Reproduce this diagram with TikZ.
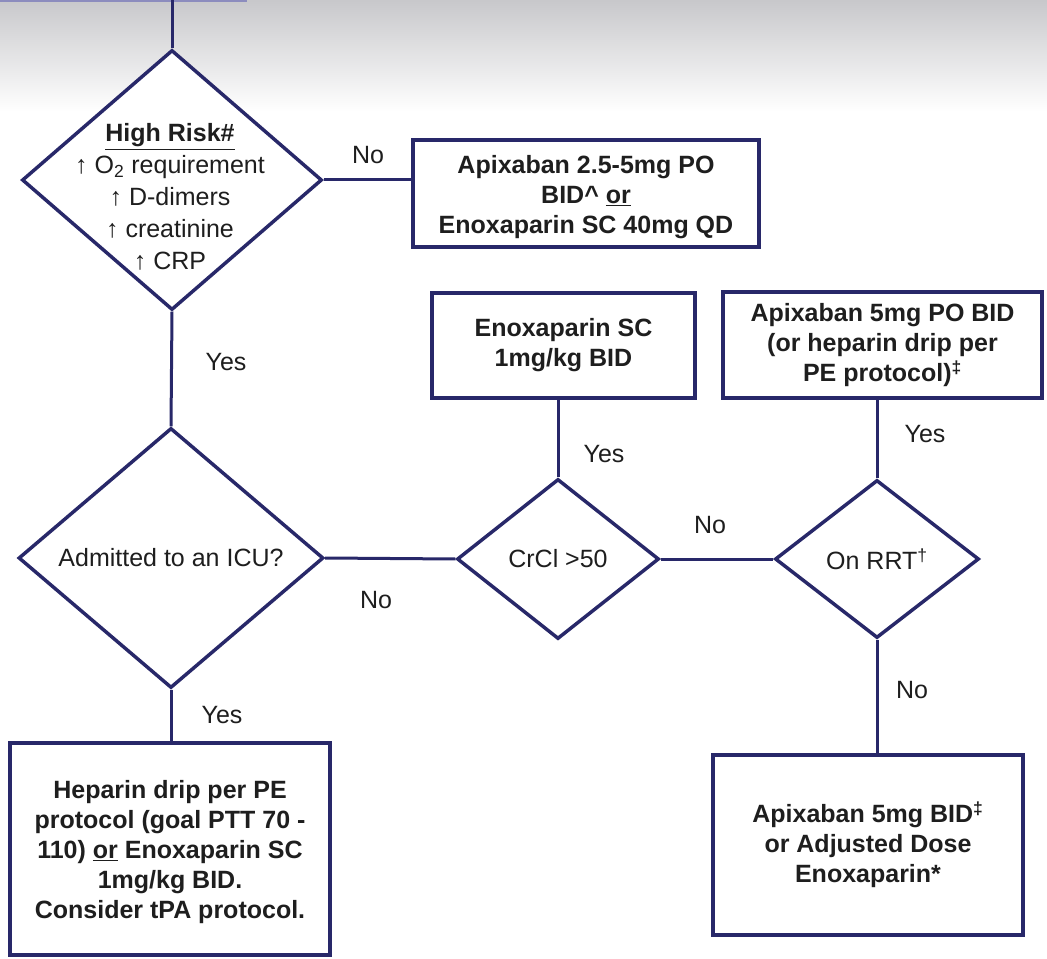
\documentclass[tikz,border=0pt]{standalone}
\usepackage{fontspec}
\setmainfont{Liberation Sans}
\usetikzlibrary{shapes.geometric}
\definecolor{navy}{RGB}{40,40,105}
\definecolor{ink}{RGB}{30,30,30}
\definecolor{topgray}{RGB}{200,200,203}
\definecolor{topline}{RGB}{140,140,190}
\newcommand\boxfnt{\fontsize{18.75}{22.5}\selectfont\bfseries}
\newcommand\txtfnt{\fontsize{18.75}{22.5}\selectfont}
\newcommand\riskfnt{\fontsize{18.75}{24}\selectfont}
\begin{document}
\begin{tikzpicture}[x=0.75pt,y=-0.75pt,
  sz/.style n args={2}{minimum width={#1*0.75pt},minimum height={#2*0.75pt}},
  box/.style={draw=navy,line width=3pt,fill=white,align=center,inner sep=0pt,text=ink,font=\boxfnt},
  dia/.style={diamond,draw=navy,line width=2.6pt,fill=white,inner sep=0pt,align=center,text=ink,font=\txtfnt},
  lbl/.style={text=ink,font=\txtfnt,inner sep=0pt,align=center},
  conn/.style={draw=navy,line width=2.25pt}]
\useasboundingbox (0,0) rectangle (1047,959);
\fill[white] (0,0) rectangle (1047,959);
\shade[top color=topgray,bottom color=white] (0,0) rectangle (1047,112);
\coordinate (tl1) at (0,1);
\coordinate (tl2) at (247,1);
\draw[topline,line width=1.5pt] (tl1) -- (tl2);
\coordinate (topin) at (172,0);

% decisions
\node[dia,sz={300}{260}] (d1) at (172,180) {};
\node[lbl,font=\riskfnt] (t1) at (170,197) {\underline{\textbf{High Risk\#}}\\↑ O\textsubscript{2} requirement\\↑ D-dimers\\↑ creatinine\\↑ CRP};
\node[dia,sz={305}{260}] (d2) at (171,558) {Admitted to an ICU?};
\node[dia,sz={202}{160}] (d3) at (558,559) {CrCl >50};
\node[dia,sz={204}{158}] (d4) at (877,559) {On RRT\textsuperscript{†}};

% boxes
\node[box,sz={346}{107}] (b1) at (586,193.5) {};
\node[lbl,font=\boxfnt] (b1t) at (586,197) {Apixaban 2.5-5mg PO\\BID\textasciicircum{} \underline{or}\\Enoxaparin SC 40mg QD};
\node[box,sz={263}{105}] (b2) at (563.5,345.5) {Enoxaparin SC\\1mg/kg BID};
\node[box,sz={319}{106}] (b3) at (882.5,345) {Apixaban 5mg PO BID\\(or heparin drip per\\PE protocol)\textsuperscript{‡}};
\node[box,sz={310}{180}] (b4) at (868,845) {Apixaban 5mg BID\textsuperscript{‡}\\or Adjusted Dose\\Enoxaparin*};
\node[box,sz={320}{212}] (b5) at (170,849) {};
\node[lbl,font=\boxfnt] (b5t) at (170,852) {Heparin drip per PE\\protocol (goal PTT 70 -\\110) \underline{or} Enoxaparin SC\\1mg/kg BID.\\Consider tPA protocol.};

% connectors
\draw[conn] (topin) -- (d1.north);
\draw[conn] (d1.east) -- (d1.east -| b1.west);
\draw[conn] (d1.south) -- (d2.north);
\draw[conn] (d2.east) -- (d3.west);
\draw[conn] (d3.north) -- (d3.north |- b2.south);
\draw[conn] (d3.east) -- (d4.west);
\draw[conn] (d4.north) -- (d4.north |- b3.south);
\draw[conn] (d4.south) -- (d4.south |- b4.north);
\draw[conn] (d2.south) -- (d2.south |- b5.north);

% labels
\node[lbl] (l1) at (368,155) {No};
\node[lbl] (l2) at (226,362) {Yes};
\node[lbl] (l3) at (376,600) {No};
\node[lbl] (l4) at (604,454) {Yes};
\node[lbl] (l5) at (710,525) {No};
\node[lbl] (l6) at (925,434) {Yes};
\node[lbl] (l7) at (912,690) {No};
\node[lbl] (l8) at (222,715) {Yes};
\end{tikzpicture}
\end{document}
